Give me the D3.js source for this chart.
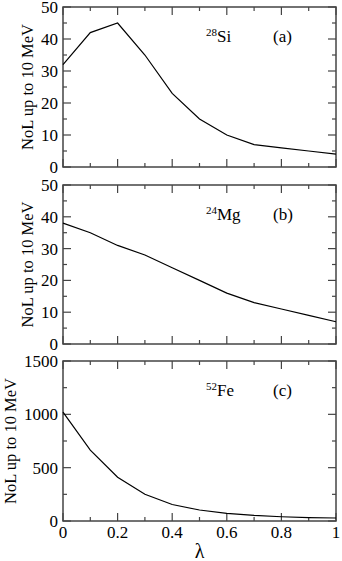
<!DOCTYPE html>
<html><head><meta charset="utf-8">
<script src="https://cdn.jsdelivr.net/npm/d3@7"></script>
<style>
html,body{margin:0;padding:0;background:#fff;}
</style></head>
<body><svg id="c" width="342" height="561"></svg>
<script>
const lambda = [0, 0.1, 0.2, 0.3, 0.4, 0.5, 0.6, 0.7, 0.8, 0.9, 1.0];
const si28 = [32, 42, 45, 35, 23, 15, 10, 7, 6, 5, 4];
const mg24 = [38, 35, 31, 28, 24, 20, 16, 13, 11, 9, 7];
const fe52 = [1020, 665, 410, 250, 155, 103, 72, 52, 40, 32, 28];
const xTicks = [0, 0.2, 0.4, 0.6, 0.8, 1];
const xTickLabels = ["0", "0.2", "0.4", "0.6", "0.8", "1"];
const yLabel = "NoL up to 10 MeV";
const xLabel = "λ";

const panels = [
  {vals: si28, max: 50, major: [0,10,20,30,40,50], minorStep: 5, iso: "28", el: "Si", tag: "(a)", top: 7, bottom: 167, ylx: 27},
  {vals: mg24, max: 50, major: [0,10,20,30,40,50], minorStep: 5, iso: "24", el: "Mg", tag: "(b)", top: 185, bottom: 344, ylx: 27},
  {vals: fe52, max: 1500, major: [0,500,1000,1500], minorStep: 250, iso: "52", el: "Fe", tag: "(c)", top: 361, bottom: 521, ylx: 10}
];

const svg = d3.select("#c");
const FONT = "Liberation Serif";
const left = 63, right = 336;
const x = d3.scaleLinear().domain([0,1]).range([left,right]);
const xMinor = d3.range(0, 1.0001, 0.1);
const frameColor = "#444";

function txt(g) { return g.append("text").attr("font-family", FONT).attr("fill", "#000"); }

panels.forEach((p, i) => {
  const y = d3.scaleLinear().domain([0, p.max]).range([p.bottom, p.top]);
  const g = svg.append("g");
  const yMinor = d3.range(0, p.max + 0.001, p.minorStep);
  const tickG = g.append("g").attr("stroke", frameColor).attr("stroke-width", 1.2);
  xMinor.forEach((v, k) => {
    const len = (k % 2 === 0) ? 8 : 4;
    tickG.append("line").attr("x1", x(v)).attr("x2", x(v)).attr("y1", p.bottom).attr("y2", p.bottom - len);
    tickG.append("line").attr("x1", x(v)).attr("x2", x(v)).attr("y1", p.top).attr("y2", p.top + len);
  });
  yMinor.forEach(v => {
    const isMajor = p.major.some(m => Math.abs(m - v) < 1e-6);
    const len = isMajor ? 8 : 4;
    tickG.append("line").attr("x1", left).attr("x2", left + len).attr("y1", y(v)).attr("y2", y(v));
    tickG.append("line").attr("x1", right).attr("x2", right - len).attr("y1", y(v)).attr("y2", y(v));
  });
  g.append("rect").attr("x", left).attr("y", p.top).attr("width", right - left).attr("height", p.bottom - p.top)
    .attr("fill", "none").attr("stroke", frameColor).attr("stroke-width", 1.5);
  p.major.forEach(v => {
    txt(g).attr("x", left - 5).attr("y", y(v)).attr("dy", "0.35em")
      .attr("text-anchor", "end").attr("font-size", 17).text(v);
  });
  const line = d3.line().x((d, k) => x(lambda[k])).y(d => y(d));
  g.append("path").datum(p.vals).attr("d", line).attr("fill", "none").attr("stroke", "#000").attr("stroke-width", 1.2);
  txt(g).attr("transform", `translate(${p.ylx},${(p.top + p.bottom) / 2}) rotate(-90)`)
    .attr("text-anchor", "middle").attr("dy", "0.35em").attr("font-size", 16.5).text(yLabel);
  const ann = txt(g).attr("x", 206).attr("y", p.top + 35).attr("font-size", 17);
  ann.append("tspan").attr("font-size", 11).attr("dy", -6).text(p.iso);
  ann.append("tspan").attr("dy", 6).text(p.el);
  txt(g).attr("x", 273).attr("y", p.top + 35).attr("font-size", 17).text(p.tag);
  if (i === 2) {
    xTicks.forEach((v, k) => {
      txt(g).attr("x", x(v)).attr("y", 538).attr("text-anchor", "middle").attr("font-size", 17).text(xTickLabels[k]);
    });
    txt(g).attr("x", x(0.5)).attr("y", 558).attr("text-anchor", "middle").attr("font-size", 20).text(xLabel);
  }
});
</script></body></html>
